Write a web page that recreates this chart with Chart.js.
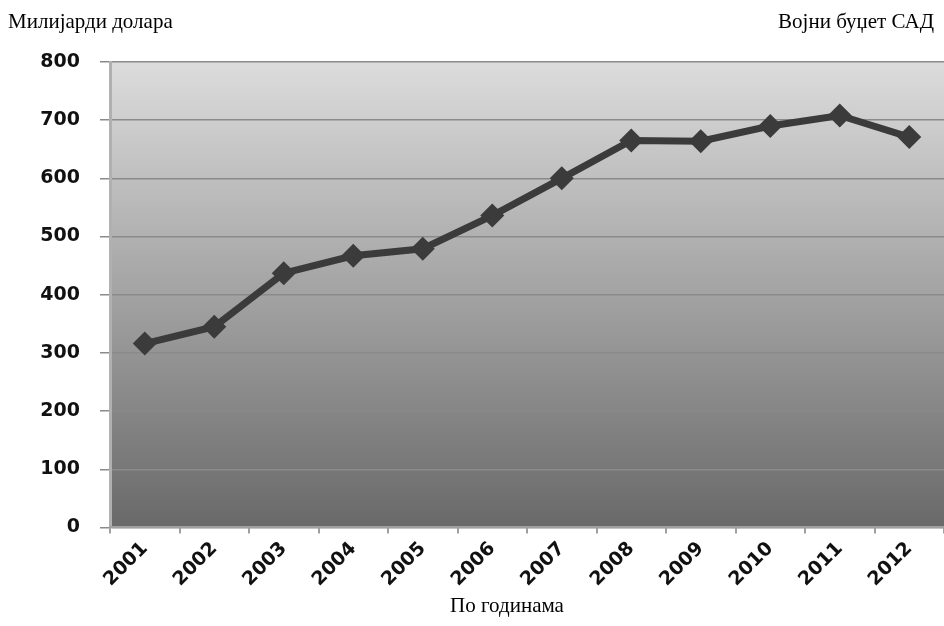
<!DOCTYPE html>
<html lang="sr">
<head>
    <meta charset="UTF-8">
    <title>Војни буџет САД</title>
    <script src="https://cdn.jsdelivr.net/npm/chart.js"></script>
    <style>
        html, body { margin: 0; padding: 0; background: #fff; }
        #wrap { width: 944px; height: 626px; position: relative; }
    </style>
</head>
<body>
    <div id="wrap">
        <canvas id="budgetChart"></canvas>
    </div>
    <script>
        // Подаци
        const years = ['2001', '2002', '2003', '2004', '2005', '2006', '2007', '2008', '2009', '2010', '2011', '2012'];
        const budget = [316, 345, 437, 467, 479, 536, 600, 665, 664, 690, 708, 671];
        const yTicks = [0, 100, 200, 300, 400, 500, 600, 700, 800];

        const titleLeft = 'Милијарди долара';
        const titleRight = 'Војни буџет САД';
        const titleBottom = 'По годинама';

        // Позадина са градијентом и текстови
        const decor = {
            id: 'decor',
            beforeDraw(chart) {
                const { ctx, chartArea: a } = chart;
                const g = ctx.createLinearGradient(0, a.top, 0, a.bottom);
                g.addColorStop(0, '#dcdcdc');
                g.addColorStop(1, '#696969');
                ctx.save();
                ctx.fillStyle = g;
                ctx.fillRect(a.left, a.top, a.right - a.left, a.bottom - a.top);
                ctx.restore();
            },
            afterDraw(chart) {
                const { ctx } = chart;
                ctx.save();
                ctx.fillStyle = '#000';
                ctx.font = '21px "Liberation Serif", serif';
                ctx.textBaseline = 'alphabetic';
                ctx.textAlign = 'left';
                ctx.fillText(titleLeft, 8, 28);
                ctx.textAlign = 'right';
                ctx.fillText(titleRight, 934, 28);
                ctx.textAlign = 'center';
                ctx.fillText(titleBottom, 507, 612);
                ctx.restore();
            }
        };

        const ctx = document.getElementById('budgetChart').getContext('2d');
        new Chart(ctx, {
            type: 'line',
            data: {
                labels: years,
                datasets: [{
                    data: budget,
                    borderColor: '#3b3b3b',
                    backgroundColor: '#3b3b3b',
                    borderWidth: 7,
                    pointStyle: 'rectRot',
                    pointRadius: 12,
                    pointBorderWidth: 0,
                    tension: 0
                }]
            },
            options: {
                responsive: true,
                maintainAspectRatio: false,
                animation: false,
                layout: { autoPadding: false, padding: { top: 62, right: 0, bottom: 31, left: 0 } },
                plugins: { legend: { display: false }, tooltip: { enabled: false } },
                scales: {
                    y: {
                        min: 0,
                        max: 800,
                        afterBuildTicks: s => { s.ticks = yTicks.map(v => ({ value: v })); },
                        afterFit: s => { s.width = 110; },
                        grid: { color: '#8a8a8a', lineWidth: 1.5, tickLength: 10 },
                        border: { color: '#b0b0b0', width: 3 },
                        ticks: {
                            color: '#111',
                            padding: 20,
                            font: { family: '"DejaVu Sans"', size: 19, weight: 'bold' }
                        }
                    },
                    x: {
                        offset: true,
                        afterFit: s => { s.paddingLeft = 0; s.paddingRight = 0; },
                        grid: { offset: true, drawOnChartArea: false, color: '#a0a0a0', tickLength: 6, lineWidth: 2 },
                        border: { color: '#a0a0a0', width: 2 },
                        ticks: {
                            color: '#111',
                            minRotation: 45,
                            maxRotation: 45,
                            padding: 4,
                            font: { family: '"DejaVu Sans"', size: 19, weight: 'bold' }
                        }
                    }
                }
            },
            plugins: [decor]
        });
    </script>
</body>
</html>
